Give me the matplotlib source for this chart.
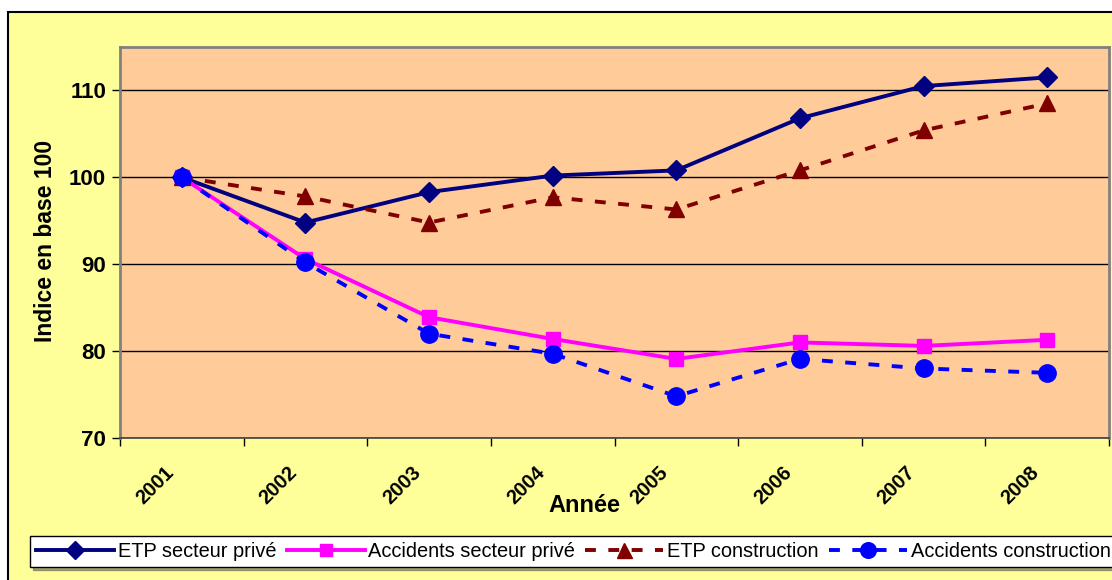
import matplotlib.pyplot as plt
from matplotlib.patches import Rectangle

# indices base 100 en 2001
annees = ['2001', '2002', '2003', '2004', '2005', '2006', '2007', '2008']
etp_prive = [100, 94.8, 98.3, 100.2, 100.8, 106.8, 110.5, 111.5]
acc_prive = [100, 90.6, 83.9, 81.4, 79.1, 81.0, 80.6, 81.3]
etp_constr = [100, 97.8, 94.8, 97.7, 96.3, 100.8, 105.4, 108.5]
acc_constr = [100, 90.2, 82.0, 79.7, 74.8, 79.1, 78.0, 77.5]

plt.rcParams['font.family'] = ['Liberation Sans', 'DejaVu Sans']

fig = plt.figure(figsize=(11.12, 5.80), dpi=100)
fig.patch.set_facecolor('white')
# cadre jaune du graphique
fig.patches.append(Rectangle((8 / 1112, -0.1), 1.2, (580 - 12) / 580 + 0.1,
                             transform=fig.transFigure, facecolor='#FFFF99',
                             edgecolor='black', linewidth=1.5, zorder=-10))

ax = fig.add_axes([120 / 1112, 1 - 438 / 580, (1109 - 120) / 1112, (438 - 47) / 580])
ax.set_facecolor('#FFCC99')

x = range(len(annees))
tirets = (0, (2.8, 3.2))
ax.plot(x, etp_prive, color='#000080', lw=2.8, marker='D', ms=10, label='ETP secteur privé')
ax.plot(x, acc_prive, color='#FF00FF', lw=2.8, marker='s', ms=10, label='Accidents secteur privé')
ax.plot(x, etp_constr, color='#800000', lw=2.8, ls=tirets, marker='^', ms=12,
        label='ETP construction')
ax.plot(x, acc_constr, color='#0000FF', lw=2.8, ls=tirets, marker='o', ms=12.5,
        label='Accidents construction')

ax.set_ylim(70, 115)
ax.set_yticks([70, 80, 90, 100, 110])
ax.yaxis.grid(True, color='black', lw=1)
ax.set_axisbelow(True)

# graduations entre les années, libellés des années inclinés à 45°
ax.set_xlim(-0.5, 7.5)
ax.set_xticks([i - 0.5 for i in range(9)])
ax.set_xticklabels([])
for i, an in zip(x, annees):
    ax.annotate(an, xy=(i, 0), xycoords=('data', 'axes fraction'),
                xytext=(-8, -23), textcoords='offset points',
                rotation=45, ha='right', va='center', rotation_mode='anchor',
                fontsize=14.5, fontweight='bold', annotation_clip=False)
ax.tick_params(axis='both', which='major', length=6, direction='out', width=1)
ax.tick_params(axis='y', labelsize=16, pad=4)
for lab in ax.get_yticklabels():
    lab.set_fontweight('bold')

for side in ['top', 'right', 'left']:
    ax.spines[side].set_color('#808080')
    ax.spines[side].set_linewidth(2)
ax.spines['bottom'].set_color('#404040')
ax.spines['bottom'].set_linewidth(1.2)

ax.set_ylabel('Indice en base 100', fontsize=16.5, fontweight='bold')
ax.yaxis.set_label_coords((57 - 120) / 989, 0.504)
ax.set_xlabel('Année', fontsize=17, fontweight='bold')
ax.xaxis.set_label_coords((584 - 120) / 989, (438 - 494) / 391)

leg = fig.legend(loc='lower left', bbox_to_anchor=(30 / 1112, 13 / 580), ncol=4,
                 fontsize=14.4, frameon=True, fancybox=False, shadow=True,
                 handlelength=3.9, columnspacing=0.5, handletextpad=0.2,
                 borderpad=0.3, borderaxespad=0, markerscale=0.9)
leg.get_frame().set_edgecolor('black')
leg.get_frame().set_facecolor('white')

fig.savefig('out.png', dpi=100, facecolor=fig.get_facecolor())
